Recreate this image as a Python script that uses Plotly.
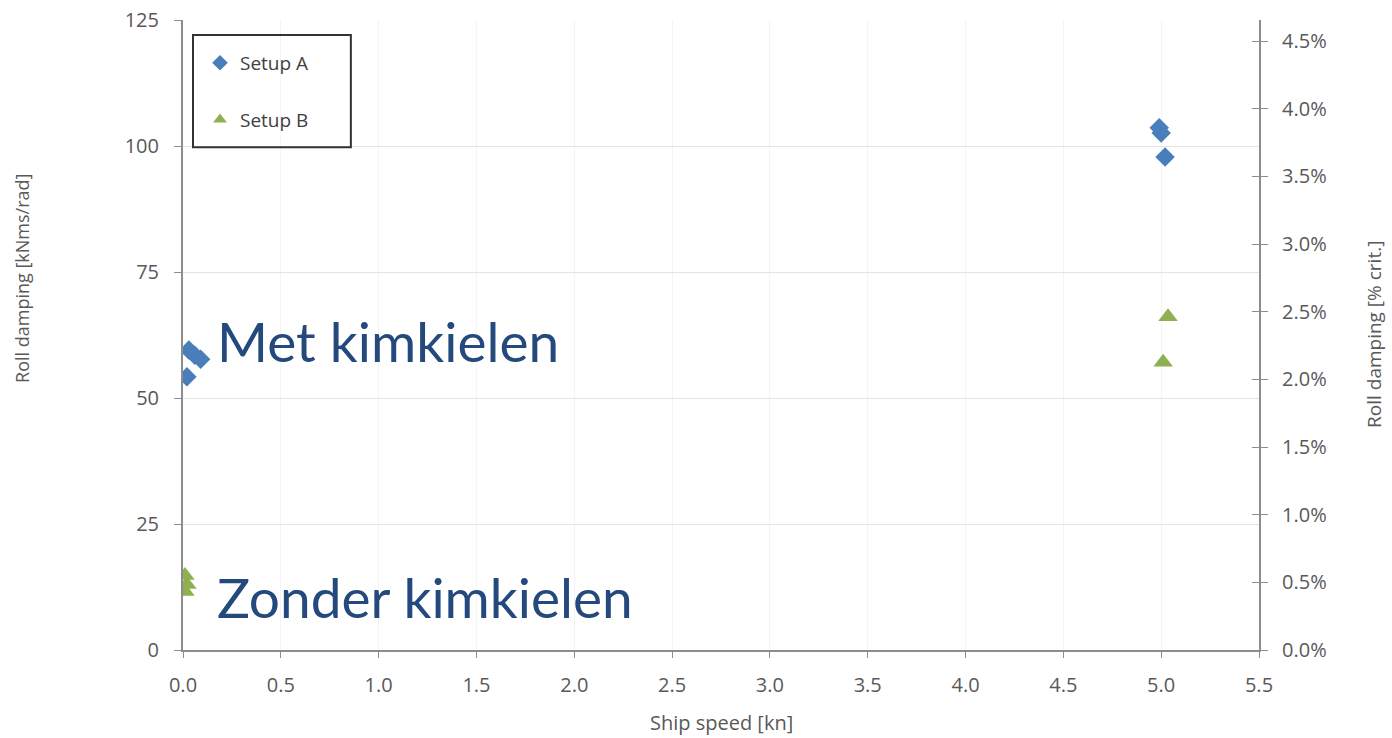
import plotly.graph_objects as go

# Data
setup_a_speed = [0.03, 0.06, 0.09, 0.02, 4.99, 5.00, 5.02]
setup_a_damping = [59.5, 58.5, 57.7, 54.2, 103.6, 102.6, 97.8]
setup_b_speed = [0.01, 0.02, 0.01, 5.035, 5.01]
setup_b_damping = [14.8, 13.0, 11.6, 66.1, 57.1]

x_ticks = [0.0, 0.5, 1.0, 1.5, 2.0, 2.5, 3.0, 3.5, 4.0, 4.5, 5.0, 5.5]
y_ticks = [0, 25, 50, 75, 100, 125]
y2_ticks = [0.0, 0.5, 1.0, 1.5, 2.0, 2.5, 3.0, 3.5, 4.0, 4.5]
y2_labels = [f"{v:.1f}%" for v in y2_ticks]

FONT = "Open Sans"
BIG_FONT = "Lato"
GRAY = "#595959"
AXIS = "#8c8c8c"

fig = go.Figure()
fig.add_trace(go.Scatter(
    x=setup_a_speed, y=setup_a_damping, mode="markers", name="Setup A",
    legendgroup="a",
    marker=dict(symbol="diamond", size=15, color="#4a7ebb"),
))
fig.add_trace(go.Scatter(
    x=setup_b_speed, y=setup_b_damping, mode="markers", name="Setup B",
    legendgroup="b",
    marker=dict(symbol="triangle-up", size=17, color="#8fb050"),
))
fig.add_trace(go.Scatter(x=[], y=[], yaxis="y2", showlegend=False, hoverinfo="skip"))
fig.add_trace(go.Scatter(x=[], y=[], yaxis="y3", showlegend=False, hoverinfo="skip"))

# Big labels
fig.add_annotation(x=0.166, y=61.3, xref="x", yref="y", text="Met kimkielen",
                   showarrow=False, xanchor="left", yanchor="middle",
                   font=dict(family=BIG_FONT, size=55, color="#24497d"))
fig.add_annotation(x=0.166, y=10.5, xref="x", yref="y", text="Zonder kimkielen",
                   showarrow=False, xanchor="left", yanchor="middle",
                   font=dict(family=BIG_FONT, size=55, color="#24497d"))

# Axis titles
fig.add_annotation(x=-0.1496, y=0.589, xref="paper", yref="paper",
                   text="Roll damping [kNms/rad]", textangle=-90, showarrow=False,
                   xanchor="center", yanchor="middle",
                   font=dict(family=FONT, size=18, color=GRAY))
fig.add_annotation(x=1.1068, y=0.5016, xref="paper", yref="paper",
                   text="Roll damping [% crit.]", textangle=-90, showarrow=False,
                   xanchor="center", yanchor="middle",
                   font=dict(family=FONT, size=19, color=GRAY))
fig.add_annotation(x=0.5, y=-0.1143, xref="paper", yref="paper",
                   text="Ship speed [kn]", showarrow=False,
                   xanchor="center", yanchor="middle",
                   font=dict(family=FONT, size=20, color=GRAY))

# Legend frame
fig.add_shape(type="rect", xref="paper", yref="paper",
              x0=0.0093, x1=0.156, y0=0.798, y1=0.976,
              line=dict(color="#333333", width=2), fillcolor="rgba(0,0,0,0)")

fig.update_layout(
    width=1392, height=738,
    margin=dict(l=183, r=133, t=20, b=88, autoexpand=False),
    paper_bgcolor="white", plot_bgcolor="white",
    font=dict(family=FONT, size=20, color=GRAY),
    xaxis=dict(
        range=[0, 5.5], tickvals=x_ticks, tickformat=".1f",
        showline=True, linecolor=AXIS, linewidth=2,
        ticks="outside", ticklen=6, tickcolor=AXIS, ticklabelstandoff=10,
        showgrid=True, gridcolor="#f4f4f4", zeroline=False,
        automargin=False, ticklabeloverflow="allow",
    ),
    yaxis=dict(
        range=[0, 125], tickvals=y_ticks,
        showline=True, linecolor=AXIS, linewidth=2,
        ticks="outside", ticklen=7, tickcolor=AXIS, ticklabelstandoff=11,
        showgrid=True, gridcolor="#e3e3e3", zeroline=False,
        automargin=False, ticklabeloverflow="allow",
    ),
    yaxis2=dict(
        overlaying="y", side="right", range=[0, 4.656], tickvals=y2_ticks,
        ticktext=y2_labels,
        showline=True, linecolor=AXIS, linewidth=2,
        ticks="outside", ticklen=7, tickcolor=AXIS, ticklabelstandoff=10,
        showgrid=False, zeroline=False,
        automargin=False, ticklabeloverflow="allow",
    ),
    yaxis3=dict(
        overlaying="y", side="right", range=[0, 4.656], tickvals=y2_ticks,
        showticklabels=False, showline=False,
        ticks="inside", ticklen=7, tickcolor=AXIS,
        showgrid=False, zeroline=False, automargin=False,
    ),
    legend=dict(
        x=0.0158, y=0.962, xanchor="left", yanchor="top",
        borderwidth=0, bgcolor="rgba(0,0,0,0)",
        font=dict(family=FONT, size=19, color="#404040"),
        tracegroupgap=29, traceorder="grouped",
        itemwidth=30, itemsizing="constant",
    ),
)

fig.write_html(
    "out.html",
    config={"displayModeBar": False},
    post_script="document.body.style.margin='0';document.body.style.overflow='hidden';",
)
